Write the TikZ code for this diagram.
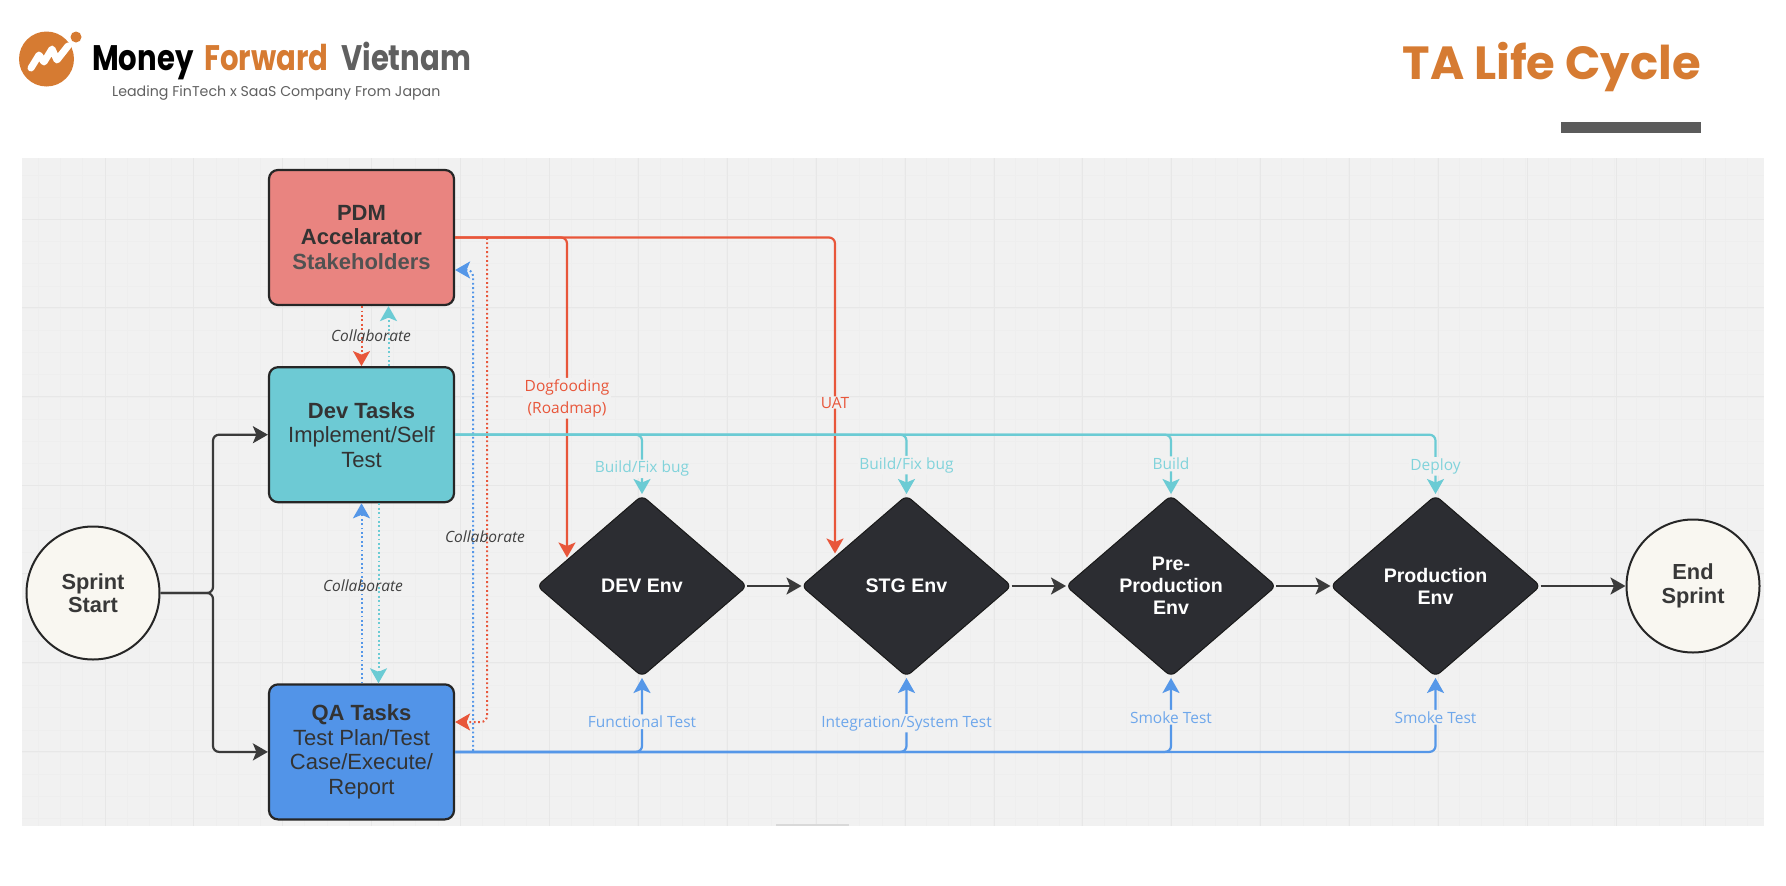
\documentclass[tikz,border=0pt]{standalone}
\usepackage{fontspec}
\setmainfont{Liberation Sans}
\newfontfamily\labelfont{Open Sans}
\newfontfamily\logofont{Poppins}
\newfontfamily\wordfont[FakeStretch=0.82]{Poppins}
\usetikzlibrary{arrows.meta,
                positioning,
                shapes.geometric
                }
\definecolor{canvasbg}{HTML}{F1F1F1}
\definecolor{gridmajor}{HTML}{E7E7E7}
\definecolor{gridminor}{HTML}{EEEEEE}
\definecolor{brandorange}{HTML}{D67B32}
\definecolor{brandgrey}{HTML}{606060}
\definecolor{redline}{HTML}{E8563A}
\definecolor{tealline}{HTML}{6BCBD4}
\definecolor{blueline}{HTML}{5597E8}
\definecolor{darkline}{HTML}{3A3A3A}
\definecolor{pdmfill}{HTML}{E98480}
\definecolor{devfill}{HTML}{6DCAD4}
\definecolor{qafill}{HTML}{5294E8}
\definecolor{envfill}{HTML}{2C2D32}
\definecolor{roundfill}{HTML}{F9F7F1}

\begin{document}
\begin{tikzpicture}[
    x=1pt, y=-1pt,
    node distance = 60pt and 54.5pt,
  task/.style = {shape=rectangle, draw=black!85, line width=2.2pt, rounded corners=9pt,
                 minimum width=185pt, minimum height=135pt, inner sep=0pt, align=center,
                 text=black!80, font=\fontsize{22}{24.5}\selectfont},
   env/.style = {shape=diamond, draw=black!90, fill=envfill, line width=1pt, rounded corners=6pt,
                 minimum width=210pt, minimum height=181pt, inner sep=0pt, outer sep=0pt, align=center,
                 text=white, font=\bfseries\fontsize{19.6}{22}\selectfont},
 round/.style = {shape=circle, draw=black!85, fill=roundfill, line width=2pt,
                 minimum size=133pt, inner sep=0pt, align=center,
                 text=black!78, font=\bfseries\fontsize{21.8}{23.5}\selectfont},
  flow/.style = {line width=2.2pt, draw=darkline, rounded corners=6pt,
                 -{Stealth[length=15pt,width=17pt,inset=3.5pt]}},
  link/.style = {line width=2.2pt, rounded corners=6pt, shorten >=1.5pt,
                 -{Stealth[length=15pt,width=17pt,inset=3.5pt]}},
 dotty/.style = {line width=2pt, rounded corners=6pt, dash pattern=on 1.8pt off 2.6pt,
                 -{Stealth[length=15pt,width=17pt,inset=3.5pt]}},
   tag/.style = {fill=canvasbg, inner sep=1.5pt, align=center,
                 font=\labelfont\fontsize{15.5}{22}\selectfont},
 talks/.style = {text=black!75, inner sep=0pt,
                 font=\labelfont\itshape\fontsize{15.5}{17}\selectfont}
                    ]
\useasboundingbox (0,0) rectangle (1786,886);
\fill[canvasbg] (22,158) rectangle (1764,826);
\foreach \x in {38.3,60.5,...,1764} \draw[gridminor, line width=.8pt] (\x,158) -- (\x,826);
\foreach \y in {175,197.2,...,826} \draw[gridminor, line width=.8pt] (22,\y) -- (1764,\y);
\foreach \x in {105,193.9,...,1764} \draw[gridmajor, line width=1pt] (\x,158) -- (\x,826);
\foreach \y in {219,307.7,...,826} \draw[gridmajor, line width=1pt] (22,\y) -- (1764,\y);
\fill[black!15] (776,824) rectangle (849,826);

\fill[brandorange] (46.5,59) circle (27.5) (76,37) circle (5.5);
\draw[white, line width=7pt, line cap=round, line join=round]
    (31,68) -- (39,55) -- (44,62) -- (52,49) -- (57,60) -- (68,46);
\node (money) [anchor=base west, inner sep=0pt, font=\wordfont\bfseries\fontsize{35.5}{36}\selectfont] at (92,70) {Money};
\node (forward) [anchor=base west, inner sep=0pt, text=brandorange, font=\wordfont\bfseries\fontsize{35.5}{36}\selectfont] at (204,70) {Forward};
\node (vietnam) [anchor=base west, inner sep=0pt, text=brandgrey, font=\wordfont\bfseries\fontsize{35.5}{36}\selectfont] at (341,70) {Vietnam};
\node (slogan) [anchor=base west, inner sep=0pt, text=brandgrey, font=\logofont\fontsize{14.2}{15}\selectfont] at (112,96) {Leading FinTech x SaaS Company From Japan};
\node (title) [anchor=base east, inner sep=0pt, text=brandorange, font=\logofont\bfseries\fontsize{46.5}{46}\selectfont] at (1701,79) {TA Life Cycle};
\fill[brandgrey!95!black] (1561,122) rectangle (1701,133);

\node (pdm) [task, fill=pdmfill] at (361.5,237.5) {\textbf{PDM}\\\textbf{Accelarator}\\\textcolor{black!68}{\textbf{Stakeholders}}};
\node (dev) [task, fill=devfill, below=of pdm] {\textbf{Dev Tasks}\\Implement/Self\\Test};
\node (qa)  [task, fill=qafill, below=180pt of dev] {\textbf{QA Tasks}\\Test Plan/Test\\Case/Execute/\\Report};
\node (sprint) [round] at (93,593) {Sprint\\Start};
\node (devenv) [env] at (642,586) {DEV Env};
\node (stgenv) [env, right=of devenv] {STG Env};
\node (preenv) [env, right=of stgenv] {Pre-\\Production\\Env};
\node (prodenv) [env, right=of preenv] {Production\\Env};
\node (endsprint) [round, right=85pt of prodenv] {End\\Sprint};

\coordinate (fork) at (213,593);
\draw[flow] (sprint.east) -- (fork) |- (dev.west);
\draw[flow] (sprint.east) -- (fork) |- (qa.west);
\draw[flow] (devenv) -- (stgenv);
\draw[flow] (stgenv) -- (preenv);
\draw[flow] (preenv) -- (prodenv);
\draw[flow] (prodenv) -- (endsprint);

\coordinate (dogend) at (567,559);
\coordinate (uatend) at (835,555);
\coordinate (qadot) at (qa.east |- 0,722);
\coordinate (pdmdot) at (pdm.east |- 0,270);
\coordinate (redfork) at (487,238);
\coordinate (bluefork) at (473,751);
\draw[link, draw=redline, text=redline] (pdm.east) -| node[tag, pos=.75] {Dogfooding\\(Roadmap)} (dogend);
\draw[link, draw=redline, text=redline] (pdm.east) -| node[tag, pos=.76, inner sep=.5pt] {UAT} (uatend);
\draw[dotty, draw=redline] (redfork) |- (qadot);
\draw[dotty, draw=blueline] (bluefork) |- (pdmdot);

\draw[dotty, draw=redline] (pdm.south) -- (dev.north);
\draw[dotty, draw=tealline] ([xshift=27pt]dev.north) -- ([xshift=27pt]pdm.south);
\draw[dotty, draw=blueline] (qa.north) -- (dev.south);
\draw[dotty, draw=tealline] ([xshift=17pt]dev.south) -- ([xshift=17pt]qa.north);
\node (talktop) [talks] at (371,336) {Collaborate};
\node (talkmid) [talks] at (363,586) {Collaborate};
\node (talkqa) [talks] at (485,537) {Collaborate};

\draw[link, draw=tealline, text=tealline!85!white] (dev.east) -| node[tag, pos=.78] {Build/Fix bug} (devenv.north);
\draw[link, draw=tealline, text=tealline!85!white] (dev.east) -| node[tag, pos=.75] {Build/Fix bug} (stgenv.north);
\draw[link, draw=tealline, text=tealline!85!white] (dev.east) -| node[tag, pos=.74] {Build} (preenv.north);
\draw[link, draw=tealline, text=tealline!85!white] (dev.east) -| node[tag, pos=.76] {Deploy} (prodenv.north);

\draw[link, draw=blueline, text=blueline!85!white] (qa.east) -| node[tag, pos=.70] {Functional Test} (devenv.south);
\draw[link, draw=blueline, text=blueline!85!white] (qa.east) -| node[tag, pos=.69] {Integration/System Test} (stgenv.south);
\draw[link, draw=blueline, text=blueline!85!white] (qa.east) -| node[tag, pos=.73] {Smoke Test} (preenv.south);
\draw[link, draw=blueline, text=blueline!85!white] (qa.east) -| node[tag, pos=.73] {Smoke Test} (prodenv.south);
\end{tikzpicture}
\end{document}
